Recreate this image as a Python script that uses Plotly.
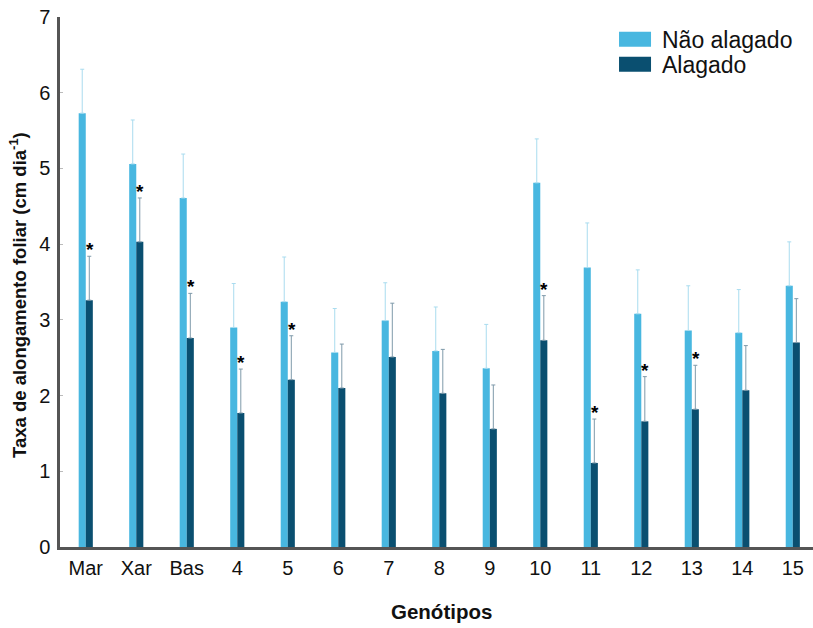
import plotly.graph_objects as go

categories = ["Mar", "Xar", "Bas", "4", "5", "6", "7", "8", "9", "10", "11", "12", "13", "14", "15"]
nao_alagado = [5.73, 5.06, 4.61, 2.90, 3.24, 2.57, 2.99, 2.59, 2.36, 4.81, 3.69, 3.08, 2.86, 2.83, 3.45]
nao_alagado_err = [0.58, 0.58, 0.58, 0.58, 0.59, 0.58, 0.50, 0.58, 0.58, 0.58, 0.59, 0.58, 0.59, 0.57, 0.58]
alagado = [3.26, 4.03, 2.76, 1.77, 2.21, 2.10, 2.51, 2.03, 1.56, 2.73, 1.11, 1.66, 1.82, 2.07, 2.70]
alagado_err = [0.58, 0.58, 0.59, 0.58, 0.58, 0.58, 0.71, 0.58, 0.58, 0.59, 0.58, 0.59, 0.58, 0.59, 0.58]
significant = [True, True, True, True, True, False, False, False, False, True, True, True, True, False, False]
series_names = ["Não alagado", "Alagado"]

light = "#48b7e0"
dark = "#0a4f70"
FONT = "Liberation Sans, Arial"

fig = go.Figure()
fig.add_trace(go.Bar(
    x=categories, y=nao_alagado, name=series_names[0], marker_color=light,
    marker_line_width=0,
    error_y=dict(type="data", symmetric=False, array=nao_alagado_err,
                 arrayminus=[0] * len(categories), color="#a9dcef", thickness=1, width=2),
    showlegend=False,
))
fig.add_trace(go.Bar(
    x=categories, y=alagado, name=series_names[1], marker_color=dark,
    marker_line_width=0,
    error_y=dict(type="data", symmetric=False, array=alagado_err,
                 arrayminus=[0] * len(categories), color="#7f9aaa", thickness=1, width=2),
    showlegend=False,
))

annotations = []
for i, (c, v, e, s) in enumerate(zip(categories, alagado, alagado_err, significant)):
    if s:
        annotations.append(dict(
            x=i, y=v + e, xref="x", yref="y", text="<b>*</b>", showarrow=False,
            xshift=4, yanchor="bottom", yshift=-6,
            font=dict(family=FONT, size=19, color="black"),
        ))

# custom legend
legend_boxes = [(0.9723, 0.944), (0.9251, 0.8968)]
for (name, col), (y1, y0) in zip(zip(series_names, [light, dark]), legend_boxes):
    fig.add_shape(type="rect", xref="paper", yref="paper",
                  x0=0.7424, x1=0.7849, y0=y0, y1=y1, fillcolor=col, line_width=0)
    annotations.append(dict(
        x=0.797, y=(y0 + y1) / 2, xref="paper", yref="paper", text=name, showarrow=False,
        xanchor="left", yanchor="middle", yshift=-1,
        font=dict(family=FONT, size=23, color="#111"),
    ))

annotations.append(dict(
    x=0.506, y=-0.1226, xref="paper", yref="paper", text="<b>Genótipos</b>", showarrow=False,
    xanchor="center", yanchor="middle",
    font=dict(family=FONT, size=20.5, color="#111"),
))
annotations.append(dict(
    x=-0.0558, y=0.4755, xref="paper", yref="paper",
    text="<b>Taxa de alongamento foliar (cm dia<sup>-1</sup>)</b>", showarrow=False,
    textangle=-90, xanchor="center", yanchor="middle",
    font=dict(family=FONT, size=18.5, color="#111"),
))

fig.update_layout(
    width=813, height=628,
    margin=dict(l=60, r=0, t=17, b=81),
    paper_bgcolor="white", plot_bgcolor="white",
    barmode="group", bargap=0.72, bargroupgap=0,
    annotations=annotations,
    font=dict(family=FONT, color="#111"),
    xaxis=dict(
        range=[-0.51, 14.4], showline=True, linecolor="#555555", linewidth=2.5,
        ticks="", tickfont=dict(size=20), showgrid=False, zeroline=False,
        ticklabelstandoff=1,
    ),
    yaxis=dict(
        range=[0, 7], dtick=1, showline=True, linecolor="#555555", linewidth=2.5,
        ticks="inside", ticklen=3, tickcolor="#bbbbbb", tickwidth=1,
        tickfont=dict(size=20), showgrid=False, zeroline=False,
        ticklabelstandoff=3,
    ),
)

fig.write_html("out.html")
